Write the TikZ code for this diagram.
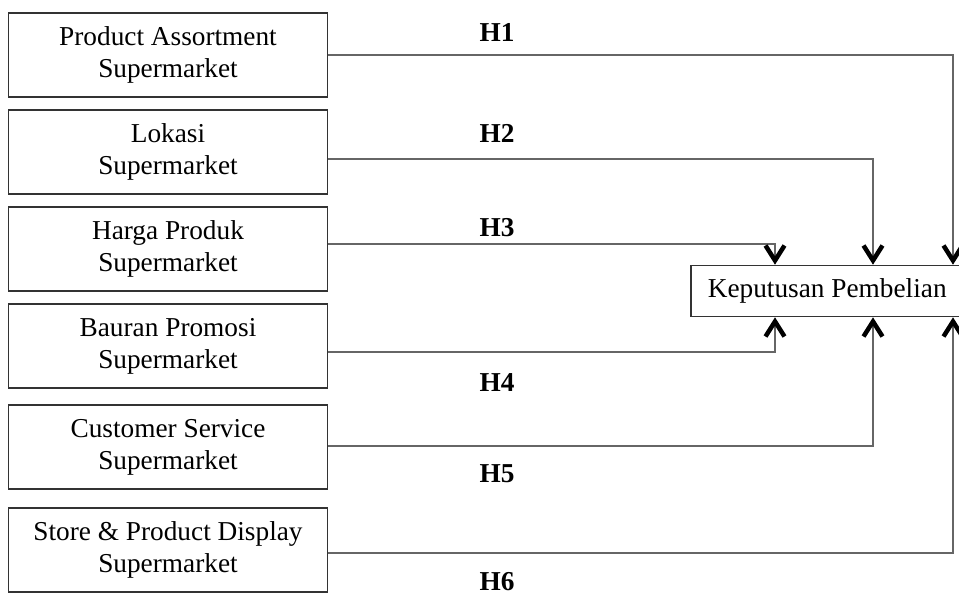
\documentclass[tikz,border=0pt]{standalone}
\usepackage{fontspec}
\setmainfont{Liberation Serif}
\usetikzlibrary{arrows.meta}

\tikzset{
  varbox/.style={draw=black!80, line width=1.6pt, minimum width=319pt, minimum height=84pt,
    align=center, font=\fontsize{27.3}{32}\selectfont},
  hyp/.style={font=\fontsize{27.3}{32}\selectfont\bfseries},
  link/.style={draw=black!60, line width=1.3pt,
    -{Straight Barb[black, line width=4.5pt, length=15pt, width=19pt]}}
}

\begin{document}
\begin{tikzpicture}[x=1pt,y=-1pt]
            \useasboundingbox (0,0) rectangle (959,595);

            % independent variables
            \node[varbox] (pa) at (168,55)  {Product Assortment\\Supermarket};
            \node[varbox] (lo) at (168,152) {Lokasi\\Supermarket};
            \node[varbox] (hp) at (168,249) {Harga Produk\\Supermarket};
            \node[varbox] (bp) at (168,346) {Bauran Promosi\\Supermarket};
            \node[varbox] (cs) at (168,447) {Customer Service\\Supermarket};
            \node[varbox] (sd) at (168,550) {Store \& Product Display\\Supermarket};

            % dependent variable
            \node[draw=black!80, line width=1.6pt, minimum height=51pt, inner xsep=17pt,
                  anchor=west, font=\fontsize{27.3}{32}\selectfont] (kp) at (690,291) {Keputusan Pembelian};

            \coordinate (in1) at (775,0);
            \coordinate (in2) at (873,0);
            \coordinate (in3) at (953,0);

            \draw[link] (pa.east) -| (kp.north -| in3);
            \draw[link] ([yshift=-7pt]lo.east) -| (kp.north -| in2);
            \draw[link] ([yshift=5pt]hp.east) -| (kp.north -| in1);
            \draw[link] ([yshift=-6pt]bp.east) -| (kp.south -| in1);
            \draw[link] ([yshift=1pt]cs.east) -| (kp.south -| in2);
            \draw[link] ([yshift=-3pt]sd.east) -| (kp.south -| in3);

            % hypotheses
            \node[hyp] (h1) at (497,32)  {H1};
            \node[hyp] (h2) at (497,133) {H2};
            \node[hyp] (h3) at (497,228) {H3};
            \node[hyp] (h4) at (497,383) {H4};
            \node[hyp] (h5) at (497,474) {H5};
            \node[hyp] (h6) at (497,582) {H6};
        \end{tikzpicture}
\end{document}
